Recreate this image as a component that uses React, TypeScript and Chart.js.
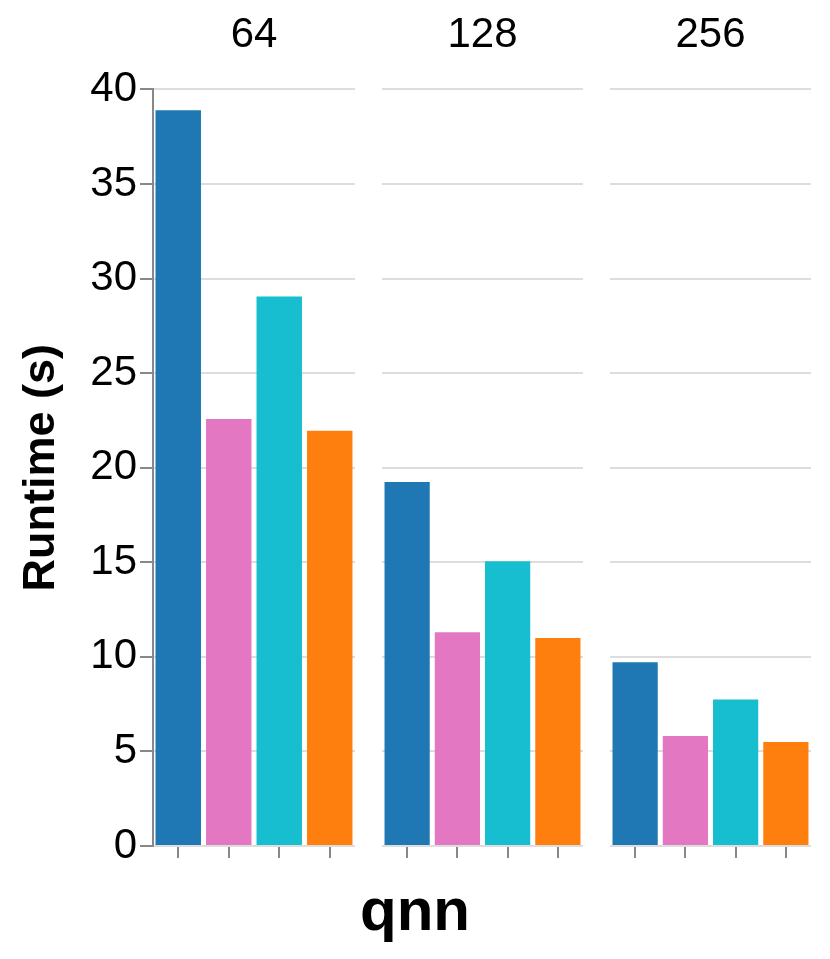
import React, { useEffect, useRef } from "react";
import { Chart, registerables } from "chart.js";

Chart.register(...registerables);

const facetLabels = ["64", "128", "256"];
const barKeys = ["1", "2", "3", "4"];
const runtime64 = [38.9, 22.58, 29.05, 21.95];
const runtime128 = [19.25, 11.3, 15.05, 11.0];
const runtime256 = [9.72, 5.82, 7.75, 5.5];
const facetValues = [runtime64, runtime128, runtime256];
const barColors = ["#1f77b4", "#e377c2", "#17becf", "#ff7f0e"];
const yTicks = [0, 5, 10, 15, 20, 25, 30, 35, 40];
const yTitle = "Runtime (s)";
const xTitle = "qnn";

const FONT = "'Liberation Sans', Arial, Helvetica, sans-serif";

const facetLefts = [0, 382, 610];
const facetWidths = [355, 201, 201];

function zeroPad(s: any) {
  s.paddingTop = 0;
  s.paddingBottom = 0;
  s.paddingLeft = 0;
  s.paddingRight = 0;
}

function Facet({ index }: { index: number }) {
  const ref = useRef<HTMLCanvasElement | null>(null);
  useEffect(() => {
    if (!ref.current) return;
    const first = index === 0;
    const chart = new Chart(ref.current, {
      type: "bar",
      data: {
        labels: barKeys,
        datasets: [
          {
            data: facetValues[index],
            backgroundColor: barColors,
            borderWidth: 0,
            barPercentage: 0.9,
            categoryPercentage: 1,
          },
        ],
      },
      options: {
        animation: false,
        responsive: false,
        maintainAspectRatio: false,
        layout: { padding: 0 },
        plugins: {
          legend: { display: false },
          tooltip: { enabled: false },
          title: {
            display: true,
            text: facetLabels[index],
            fullSize: false,
            color: "#000",
            font: { family: FONT, size: 42, weight: "normal" },
            padding: { top: 10, bottom: 29 },
          },
        },
        scales: {
          x: {
            ticks: { display: false },
            grid: {
              drawOnChartArea: false,
              drawTicks: true,
              tickLength: 12,
              tickColor: "#888",
              tickWidth: 2,
              offset: false,
              lineWidth: 2,
            },
            border: { color: "#ddd", width: 2 },
            afterFit: (s: any) => {
              s.height = 20;
              zeroPad(s);
            },
          },
          y: {
            min: 0,
            max: 40,
            afterBuildTicks: (s: any) => {
              s.ticks = yTicks.map((v) => ({ value: v }));
            },
            ticks: {
              display: first,
              color: "#000",
              padding: 3,
              font: { family: FONT, size: 42 },
            },
            grid: {
              color: "#ddd",
              lineWidth: 2,
              drawTicks: first,
              tickLength: 13,
              tickColor: "#888",
              tickWidth: 2,
            },
            border: { display: first, color: "#888", width: 2 },
            title: {
              display: first,
              text: yTitle,
              color: "#000",
              font: { family: FONT, size: 45, weight: "bold" },
              padding: { top: 15, bottom: 0 },
            },
            afterFit: (s: any) => {
              s.width = first ? 153 : 0;
              zeroPad(s);
            },
          },
        },
      },
    } as any);
    return () => chart.destroy();
  }, [index]);
  return (
    <canvas
      ref={ref}
      width={facetWidths[index]}
      height={866}
      style={{
        position: "absolute",
        left: facetLefts[index],
        top: 0,
        width: facetWidths[index],
        height: 866,
      }}
    />
  );
}

export default function App() {
  return (
    <div
      style={{
        position: "absolute",
        left: 0,
        top: 0,
        width: 830,
        height: 959,
        background: "#fff",
      }}
    >
      {facetLabels.map((_, i) => (
        <Facet key={i} index={i} />
      ))}
      <div
        style={{
          position: "absolute",
          left: 0,
          top: 880,
          width: 830,
          textAlign: "center",
          fontFamily: FONT,
          fontWeight: "bold",
          fontSize: 60,
          lineHeight: "60px",
          color: "#000",
        }}
      >
        {xTitle}
      </div>
    </div>
  );
}
